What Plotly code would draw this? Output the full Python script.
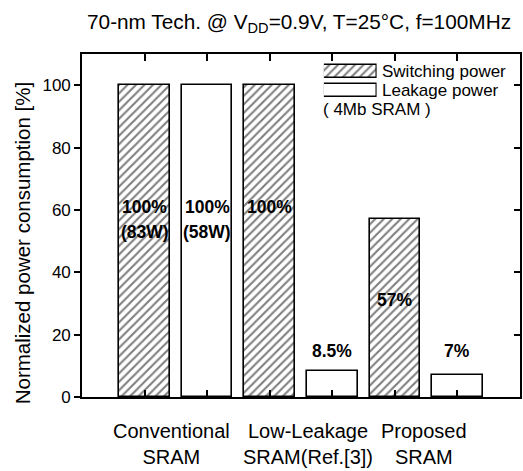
import plotly.graph_objects as go

# ---- data -------------------------------------------------------------
categories = ["Conventional<br>SRAM", "Low-Leakage<br>SRAM(Ref.[3])", "Proposed<br>SRAM"]
switching_power = [100, 100, 57]       # normalized [%]
leakage_power = [100, 8.5, 7]          # normalized [%]
switching_watts = ["83W", None, None]
leakage_watts = ["58W", None, None]
y_ticks = [0, 20, 40, 60, 80, 100]

# ---- layout constants -------------------------------------------------
W, H = 523, 471
ML, MR, MT, MB = 82, 1, 54, 74
PLOT_H = H - MT - MB
FONT = "Liberation Sans, Arial, Helvetica, sans-serif"
BAR_W = 0.81
# vertical placement of the value labels (data units)
sw_label_y = [61, 61, 31]
lk_label_y = [61, 14.7, 14.7]
watt_label_y = 53
cat_shift = [-4, 7, -2]


def py(pix):
    """pixel row -> paper y"""
    return (H - MB - pix) / PLOT_H


def px(pix):
    return (pix - ML) / (W - ML - MR)


sw_x = [2 * i + 1 for i in range(len(categories))]
lk_x = [2 * i + 2 for i in range(len(categories))]

fig = go.Figure()

hatch = dict(shape="/", size=6, solidity=0.35, fgcolor="black", bgcolor="white")

fig.add_trace(go.Bar(
    x=sw_x, y=switching_power, width=BAR_W, name="Switching power",
    marker=dict(color="white", pattern=hatch, line=dict(color="black", width=1.6)),
    showlegend=False, hoverinfo="skip"))
fig.add_trace(go.Bar(
    x=lk_x, y=leakage_power, width=BAR_W, name="Leakage power",
    marker=dict(color="white", line=dict(color="black", width=1.6)),
    showlegend=False, hoverinfo="skip"))

# legend swatches on their own small axes
fig.add_trace(go.Bar(
    x=[1], y=[1], orientation="h", width=0.66, xaxis="x2", yaxis="y2",
    marker=dict(color="white", pattern=hatch, line=dict(color="black", width=1.4)),
    showlegend=False, hoverinfo="skip"))
fig.add_trace(go.Bar(
    x=[1], y=[0], orientation="h", width=0.66, xaxis="x2", yaxis="y2",
    marker=dict(color="white", line=dict(color="black", width=1.4)),
    showlegend=False, hoverinfo="skip"))

ann = []
lab_font = dict(family=FONT, size=17.5, color="black")
for i in range(len(categories)):
    for xs, vals, watts, ly in ((sw_x, switching_power, switching_watts, sw_label_y),
                                (lk_x, leakage_power, leakage_watts, lk_label_y)):
        ann.append(dict(x=xs[i], y=ly[i], xref="x", yref="y", showarrow=False,
                        text="<b>%g%%</b>" % vals[i], font=lab_font,
                        xanchor="center", yanchor="middle"))
        if watts[i]:
            ann.append(dict(x=xs[i], y=watt_label_y, xref="x", yref="y", showarrow=False,
                            text="<b>(%s)</b>" % watts[i], font=lab_font,
                            xanchor="center", yanchor="middle"))

# category labels under each pair of bars
for i, c in enumerate(categories):
    ann.append(dict(x=(sw_x[i] + lk_x[i]) / 2, y=py(418), xref="x", yref="paper",
                    xshift=cat_shift[i], showarrow=False, text=c,
                    font=dict(family=FONT, size=20, color="black"),
                    xanchor="center", yanchor="top", align="center"))

# y-axis title
ann.append(dict(x=px(23), y=py(243), xref="paper", yref="paper", showarrow=False,
                text="Normalized power consumption [%]", textangle=-90,
                font=dict(family=FONT, size=20.5, color="black"),
                xanchor="center", yanchor="middle"))

# heading
ann.append(dict(x=px(300), y=py(8), xref="paper", yref="paper", showarrow=False,
                text="70-nm Tech. @ V<sub>DD</sub>=0.9V, T=25°C, f=100MHz",
                font=dict(family=FONT, size=20.8, color="black"),
                xanchor="center", yanchor="top"))

# legend texts
leg_font = dict(family=FONT, size=17, color="black")
ann.append(dict(x=px(381), y=py(71), xref="paper", yref="paper", showarrow=False,
                text="Switching power", font=leg_font, xanchor="left", yanchor="middle"))
ann.append(dict(x=px(381), y=py(90), xref="paper", yref="paper", showarrow=False,
                text="Leakage power", font=leg_font, xanchor="left", yanchor="middle"))
ann.append(dict(x=px(322), y=py(109), xref="paper", yref="paper", showarrow=False,
                text="( 4Mb SRAM )", font=leg_font, xanchor="left", yanchor="middle"))

fig.update_layout(
    width=W, height=H,
    margin=dict(l=ML, r=MR, t=MT, b=MB, pad=0),
    paper_bgcolor="white", plot_bgcolor="white",
    barmode="overlay", bargap=0,
    showlegend=False,
    annotations=ann,
    xaxis=dict(range=[0, 7], tickvals=sw_x + lk_x, showticklabels=False,
               ticks="inside", ticklen=7, tickwidth=1.5, tickcolor="black",
               showline=True, linecolor="black", linewidth=1.6, mirror="ticks",
               showgrid=False, zeroline=False, fixedrange=True),
    yaxis=dict(range=[0, 110], tickvals=y_ticks, ticks="outside", ticklen=6,
               tickwidth=1.5, tickcolor="black",
               tickfont=dict(family=FONT, size=17, color="black"),
               showline=True, linecolor="black", linewidth=1.6, mirror=True,
               showgrid=False, zeroline=False, fixedrange=True),
    yaxis3=dict(overlaying="y", side="right", matches="y", range=[0, 110],
                tickvals=y_ticks, ticks="inside", ticklen=6, tickwidth=1.5,
                tickcolor="black", showticklabels=False, showline=False,
                showgrid=False, zeroline=False),
    xaxis2=dict(domain=[px(325), px(378)], range=[0, 1], visible=False,
                anchor="y2", fixedrange=True),
    yaxis2=dict(domain=[py(100), py(62)], range=[-0.5, 1.5], visible=False,
                anchor="x2", fixedrange=True),
)

# a dummy trace so the right-hand axis is drawn
fig.add_trace(go.Scatter(x=[None], y=[None], yaxis="y3", showlegend=False,
                         hoverinfo="skip"))

fig.write_html("out.html")
